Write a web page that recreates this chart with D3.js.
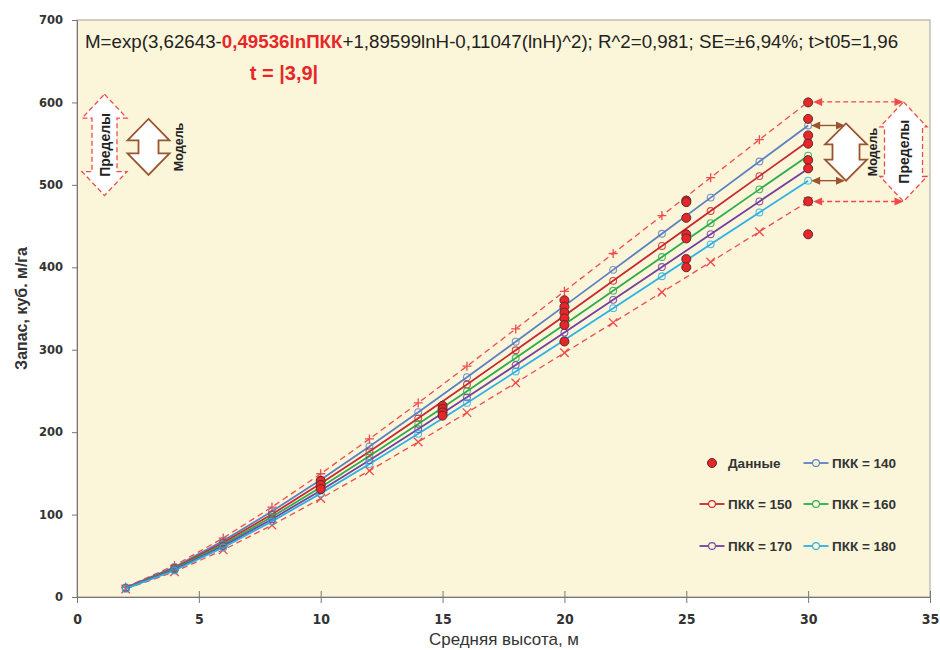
<!DOCTYPE html>
<html><head><meta charset="utf-8">
<script src="https://cdn.jsdelivr.net/npm/d3@7"></script>
<style>body{margin:0;background:#fff} svg{display:block}</style>
</head><body><svg id="c" width="940" height="650"></svg>
<script>
// ---------- data ----------
const heights = [2,4,6,8,10,12,14,16,18,20,22,24,26,28,30];
const pkk140 = [11.47,36.40,68.10,103.90,142.38,182.69,224.26,266.70,309.75,353.19,396.89,440.69,484.54,528.35,572.05];
const pkk150 = [11.08,35.18,65.81,100.41,137.60,176.55,216.73,257.74,299.34,341.32,383.55,425.88,468.26,510.60,552.83];
const pkk160 = [10.74,34.07,63.74,97.25,133.27,171.00,209.91,249.63,289.92,330.58,371.49,412.48,453.52,494.53,535.43];
const pkk170 = [10.42,33.06,61.86,94.37,129.32,165.94,203.70,242.24,281.35,320.80,360.50,400.28,440.11,479.90,519.59];
const pkk180 = [10.13,32.14,60.13,91.74,125.71,161.30,198.01,235.48,273.49,311.85,350.43,389.10,427.82,466.50,505.09];
const upperLimit = [12.04,38.22,71.51,109.10,149.50,191.82,235.47,280.04,325.24,370.85,416.73,462.72,508.77,554.77,600.65];
const lowerLimit = [9.62,30.53,57.12,87.15,119.43,153.24,188.11,223.71,259.82,296.25,332.91,369.65,406.43,443.18,479.83];
const obsH = [10,10,10,15,15,15,15,20,20,20,20,20,20,25,25,25,25,25,25,25,30,30,30,30,30,30,30,30];
const obsV = [141,136,131,232,228,224,220,360,352,345,338,330,310,481,479,460,440,435,410,400,600,580,560,550,530,520,480,440];
const seriesNames = ["ПКК = 140","ПКК = 150","ПКК = 160","ПКК = 170","ПКК = 180"];
const seriesColors = ["#5B80C2","#C8282E","#2EAB4C","#7440A0","#2EB0E6"];
const xTicks = [0,5,10,15,20,25,30,35];
const yTicks = [0,100,200,300,400,500,600,700];

const svg = d3.select("#c");
const x = d3.scaleLinear().domain([0,35]).range([77,930]);
const y = d3.scaleLinear().domain([0,700]).range([597,20]);

// plot background
svg.append("rect").attr("x",x(0)).attr("y",y(700)).attr("width",x(35)-x(0)).attr("height",y(0)-y(700))
  .attr("fill","#FBF6DA").attr("stroke","#A0A0A0").attr("stroke-width",1);

// axes
const ya = svg.append("g").attr("transform",`translate(${x(0)},0)`)
  .call(d3.axisLeft(y).tickValues(yTicks).tickSize(5).tickPadding(9));
ya.select(".domain").attr("stroke","#777");
ya.selectAll(".tick line").attr("stroke","#777");
ya.selectAll("text").attr("font-family","DejaVu Sans").attr("font-weight","bold").attr("font-size",11.5).attr("fill","#333");

const xa = svg.append("g").attr("transform",`translate(0,${y(0)})`)
  .call(d3.axisBottom(x).tickValues(xTicks).tickSize(5).tickPadding(12));
xa.select(".domain").attr("stroke","#777");
xa.selectAll(".tick line").attr("stroke","#777").attr("y1",-6).attr("y2",6);
xa.selectAll("text").attr("font-family","'Liberation Sans Narrow','DejaVu Sans Condensed','Liberation Sans',sans-serif")
  .attr("font-weight","bold").attr("font-size",14).attr("fill","#333");

svg.append("text").attr("x",504).attr("y",645).attr("text-anchor","middle")
  .attr("font-family","'Liberation Sans Narrow','Liberation Sans',sans-serif").attr("font-size",17).attr("fill","#333")
  .attr("textLength",150).attr("lengthAdjust","spacingAndGlyphs")
  .text("Средняя высота, м");
svg.append("text").attr("transform",`translate(27,${(y(0)+y(700))/2}) rotate(-90)`).attr("text-anchor","middle")
  .attr("font-family","'Liberation Sans',sans-serif").attr("font-weight","bold").attr("font-size",16).attr("fill","#333")
  .text("Запас, куб. м/га");

// ---------- series ----------
const line = d3.line().x(d=>x(d[0])).y(d=>y(d[1]));
const zip = arr => heights.map((h,i)=>[h,arr[i]]);

// limits
const limColor = "#F04A4A";
[upperLimit, lowerLimit].forEach((arr,k)=>{
  svg.append("path").attr("d",line(zip(arr))).attr("fill","none").attr("stroke",limColor)
    .attr("stroke-width",1.3).attr("stroke-dasharray","6,4");
  svg.append("g").selectAll("path").data(zip(arr)).join("path")
    .attr("transform",d=>`translate(${x(d[0])},${y(d[1])}) rotate(${k?45:0})`)
    .attr("d", k? "M-6,0H6M0,-6V6" : "M-4.5,0H4.5M0,-4.5V4.5")
    .attr("stroke",limColor).attr("stroke-width",1.3).attr("fill","none");
});

const allSeries = [pkk140,pkk150,pkk160,pkk170,pkk180];
allSeries.forEach((arr,i)=>{
  svg.append("path").attr("d",line(zip(arr))).attr("fill","none").attr("stroke",seriesColors[i]).attr("stroke-width",1.8);
});
allSeries.forEach((arr,i)=>{
  svg.append("g").selectAll("circle").data(zip(arr)).join("circle")
    .attr("cx",d=>x(d[0])).attr("cy",d=>y(d[1])).attr("r",3.4)
    .attr("fill","none").attr("stroke",seriesColors[i]).attr("stroke-width",1.1).attr("stroke-opacity",0.85);
});

// observations
svg.append("g").selectAll("circle").data(obsH.map((h,i)=>[h,obsV[i]])).join("circle")
  .attr("cx",d=>x(d[0])).attr("cy",d=>y(d[1])).attr("r",4.5)
  .attr("fill","#E8262A").attr("stroke","#5A2A2A").attr("stroke-width",1);

// ---------- annotations ----------
function blockArrow(cx, top, bottom, headW, shaftW, headH){
  const hw=headW/2, sw=shaftW/2;
  return `M${cx},${top}L${cx+hw},${top+headH}L${cx+sw},${top+headH}L${cx+sw},${bottom-headH}L${cx+hw},${bottom-headH}`+
         `L${cx},${bottom}L${cx-hw},${bottom-headH}L${cx-sw},${bottom-headH}L${cx-sw},${top+headH}L${cx-hw},${top+headH}Z`;
}
const brown = "#9A5530";
// left "Пределы"
svg.append("path").attr("d",blockArrow(104.5, y(610), y(487), 45, 25, 24)).attr("fill","#fff")
  .attr("stroke",limColor).attr("stroke-width",1.3).attr("stroke-dasharray","5,3");
svg.append("text").attr("transform",`translate(109.5,${(y(610)+y(487))/2}) rotate(-90)`).attr("text-anchor","middle")
  .attr("font-family","'Liberation Sans',sans-serif").attr("font-weight","bold").attr("font-size",14).attr("fill","#222").text("Пределы");
// left "Модель"
svg.append("path").attr("d",blockArrow(148.5, y(580), y(512), 42, 20, 21.5)).attr("fill","#fff")
  .attr("stroke",brown).attr("stroke-width",1.8);
svg.append("text").attr("transform",`translate(183,${(y(580)+y(512))/2}) rotate(-90)`).attr("text-anchor","middle")
  .attr("font-family","'Liberation Sans',sans-serif").attr("font-weight","bold").attr("font-size",12.5).attr("fill","#222").text("Модель");

// right side
const last = heights.length-1;
const rP = {cx:903.5, top:y(upperLimit[last]), bottom:y(lowerLimit[last])};
const rM = {cx:846, top:y(pkk140[last])-2, bottom:y(pkk180[last])};
svg.append("path").attr("d",blockArrow(rP.cx, rP.top, rP.bottom, 47, 38, 25)).attr("fill","#fff")
  .attr("stroke",limColor).attr("stroke-width",1.3).attr("stroke-dasharray","5,3");
svg.append("text").attr("transform",`translate(908.5,${(rP.top+rP.bottom)/2}) rotate(-90)`).attr("text-anchor","middle")
  .attr("font-family","'Liberation Sans',sans-serif").attr("font-weight","bold").attr("font-size",14).attr("fill","#222").text("Пределы");
svg.append("path").attr("d",blockArrow(rM.cx, rM.top, rM.bottom, 42, 27, 21)).attr("fill","#fff")
  .attr("stroke",brown).attr("stroke-width",1.8);
svg.append("text").attr("transform",`translate(877,${(rM.top+rM.bottom)/2}) rotate(-90)`).attr("text-anchor","middle")
  .attr("font-family","'Liberation Sans',sans-serif").attr("font-weight","bold").attr("font-size",12.5).attr("fill","#222").text("Модель");

function hArrow(x1,x2,yy,color,dashed){
  svg.append("line").attr("x1",x1+6).attr("x2",x2-6).attr("y1",yy).attr("y2",yy).attr("stroke",color)
    .attr("stroke-width",1.4).attr("stroke-dasharray",dashed?"5,3":null);
  svg.append("path").attr("d",`M${x1},${yy}L${x1+9},${yy-4}L${x1+9},${yy+4}Z`).attr("fill",color);
  svg.append("path").attr("d",`M${x2},${yy}L${x2-9},${yy-4}L${x2-9},${yy+4}Z`).attr("fill",color);
}
hArrow(x(30)+5, rP.cx, y(upperLimit[last]), limColor, true);
hArrow(x(30)+5, rP.cx, y(lowerLimit[last]), limColor, true);
hArrow(x(30)+3, rM.cx-1, y(pkk140[last]), brown, false);
hArrow(x(30)+3, rM.cx-1, y(pkk180[last]), brown, false);

// ---------- formula ----------
const ft = svg.append("text").attr("x",85).attr("y",48)
  .attr("font-family","'Liberation Sans',sans-serif").attr("font-size",17).attr("fill","#222");
ft.append("tspan").text("M=exp(3,62643-");
ft.append("tspan").attr("fill","#E8262A").attr("font-weight","bold").text("0,49536lnПКК");
ft.append("tspan").text("+1,89599lnH-0,11047(lnH)^2); R^2=0,981; SE=±6,94%; t>t05=1,96");
const w = ft.node().getComputedTextLength();
ft.attr("font-size", 17*814/w);
svg.append("text").attr("x",284).attr("y",80).attr("text-anchor","middle")
  .attr("font-family","'Liberation Sans',sans-serif").attr("font-weight","bold").attr("font-size",20).attr("fill","#E8262A")
  .text("t = |3,9|");

// ---------- legend ----------
const lg = svg.append("g").attr("font-family","'Liberation Sans',sans-serif").attr("font-weight","bold").attr("font-size",13.5).attr("fill","#333");
const legendItems = [
  {name:"Данные", col:0, row:0, dot:true},
  {name:seriesNames[0], col:1, row:0, c:seriesColors[0]},
  {name:seriesNames[1], col:0, row:1, c:seriesColors[1]},
  {name:seriesNames[2], col:1, row:1, c:seriesColors[2]},
  {name:seriesNames[3], col:0, row:2, c:seriesColors[3]},
  {name:seriesNames[4], col:1, row:2, c:seriesColors[4]}
];
const colX = [712, 816], rowY = [463, 504, 546];
legendItems.forEach(it=>{
  const cx = colX[it.col], cy = rowY[it.row];
  if(it.dot){
    lg.append("circle").attr("cx",cx).attr("cy",cy).attr("r",4.5).attr("fill","#E8262A").attr("stroke","#5A2A2A");
  } else {
    lg.append("line").attr("x1",cx-12.5).attr("x2",cx+12.5).attr("y1",cy).attr("y2",cy).attr("stroke",it.c).attr("stroke-width",1.8);
    lg.append("circle").attr("cx",cx).attr("cy",cy).attr("r",3.4).attr("fill","#FBF6DA").attr("stroke",it.c).attr("stroke-width",1.1);
  }
  lg.append("text").attr("x",cx+16).attr("y",cy+5).text(it.name);
});
</script></body></html>
